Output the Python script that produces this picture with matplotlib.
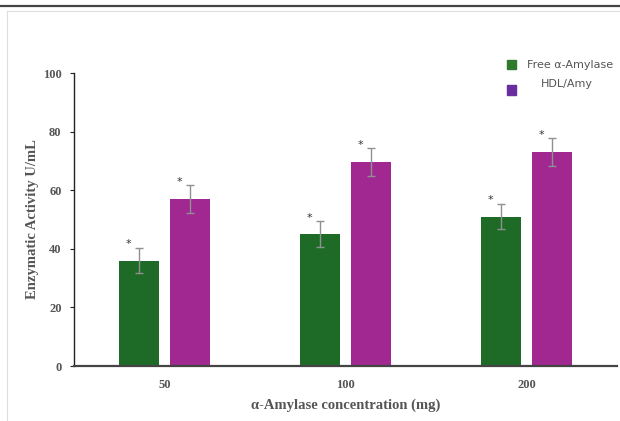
import matplotlib.pyplot as plt
from matplotlib.patches import Rectangle
from matplotlib.lines import Line2D
import numpy as np

concentrations = ["50", "100", "200"]
series_names = ["Free α-Amylase", "HDL/Amy"]
free_amylase = [36, 45, 51]
hdl_amy = [57, 69.5, 73]
free_err = [4.4, 4.4, 4.4]
hdl_err = [4.7, 4.8, 4.8]

bar_colors = ["#1d6b27", "#a02890"]
legend_colors = ["#2f7a2c", "#6a2c9e"]

fig = plt.figure(figsize=(6.2, 4.21), dpi=100)
fig.patch.set_facecolor("white")

# page frame: dark rule on top, light border on the left/top
fig.add_artist(Line2D([0, 1], [0.985, 0.985], color="#444444", lw=1.6, transform=fig.transFigure))
fig.add_artist(Line2D([0.011, 1], [0.974, 0.974], color="#dddddd", lw=0.8, transform=fig.transFigure))
fig.add_artist(Line2D([0.011, 0.011], [0, 0.974], color="#dddddd", lw=0.8, transform=fig.transFigure))

ax = fig.add_axes([0.1194, 0.1306, 0.8756, 0.696])

x = np.arange(len(concentrations))
w = 0.222
off = 0.141
ax.bar(x - off, free_amylase, w, color=bar_colors[0], zorder=2)
ax.bar(x + off, hdl_amy, w, color=bar_colors[1], zorder=2)
ax.errorbar(x - off, free_amylase, yerr=free_err, fmt="none", ecolor="#909090",
            elinewidth=1, capsize=3, capthick=1, zorder=3)
ax.errorbar(x + off, hdl_amy, yerr=hdl_err, fmt="none", ecolor="#909090",
            elinewidth=1, capsize=3, capthick=1, zorder=3)

# significance marks
for xs, vals, errs in [(x - off, free_amylase, free_err), (x + off, hdl_amy, hdl_err)]:
    for xi, v, e in zip(xs, vals, errs):
        ax.text(xi - 0.06, v + e - 0.5, "*", ha="center", va="bottom",
                fontsize=8, color="#333333")

ax.set_xlim(-0.5, 2.5)
ax.set_ylim(0, 100)
ax.set_yticks([0, 20, 40, 60, 80, 100])
ax.set_xticks(x)
ax.set_xticklabels(concentrations)

for s in ["top", "right"]:
    ax.spines[s].set_visible(False)
ax.spines["left"].set_color("#222222")
ax.spines["left"].set_linewidth(1.0)
ax.spines["bottom"].set_color("#444444")
ax.spines["bottom"].set_linewidth(1.6)

ax.tick_params(axis="y", length=3, width=0.8, color="#222222", pad=6)
ax.tick_params(axis="x", length=0, pad=9)
for lab in ax.get_xticklabels() + ax.get_yticklabels():
    lab.set_fontfamily("Liberation Serif")
    lab.set_fontweight("bold")
    lab.set_fontsize(9)
    lab.set_color("#555555")

ax.set_ylabel("Enzymatic Activity U/mL", family="Liberation Serif", fontweight="bold",
              fontsize=10.5, color="#555555", labelpad=3)
ax.set_xlabel("α-Amylase concentration (mg)", family="Liberation Serif", fontweight="bold",
              fontsize=10.5, color="#555555", labelpad=6)

# legend
leg_font = ["Liberation Sans Narrow", "DejaVu Sans"]
fig.add_artist(Rectangle((0.8185, 0.835), 0.0145, 0.022, color=legend_colors[0],
                         transform=fig.transFigure))
fig.text(0.850, 0.846, series_names[0], family=leg_font, fontsize=8,
         color="#555555", va="center")
fig.add_artist(Rectangle((0.8185, 0.775), 0.0145, 0.022, color=legend_colors[1],
                         transform=fig.transFigure))
fig.text(0.872, 0.801, series_names[1], family=leg_font, fontsize=8,
         color="#555555", va="center")

fig.savefig("out.png", dpi=100)
